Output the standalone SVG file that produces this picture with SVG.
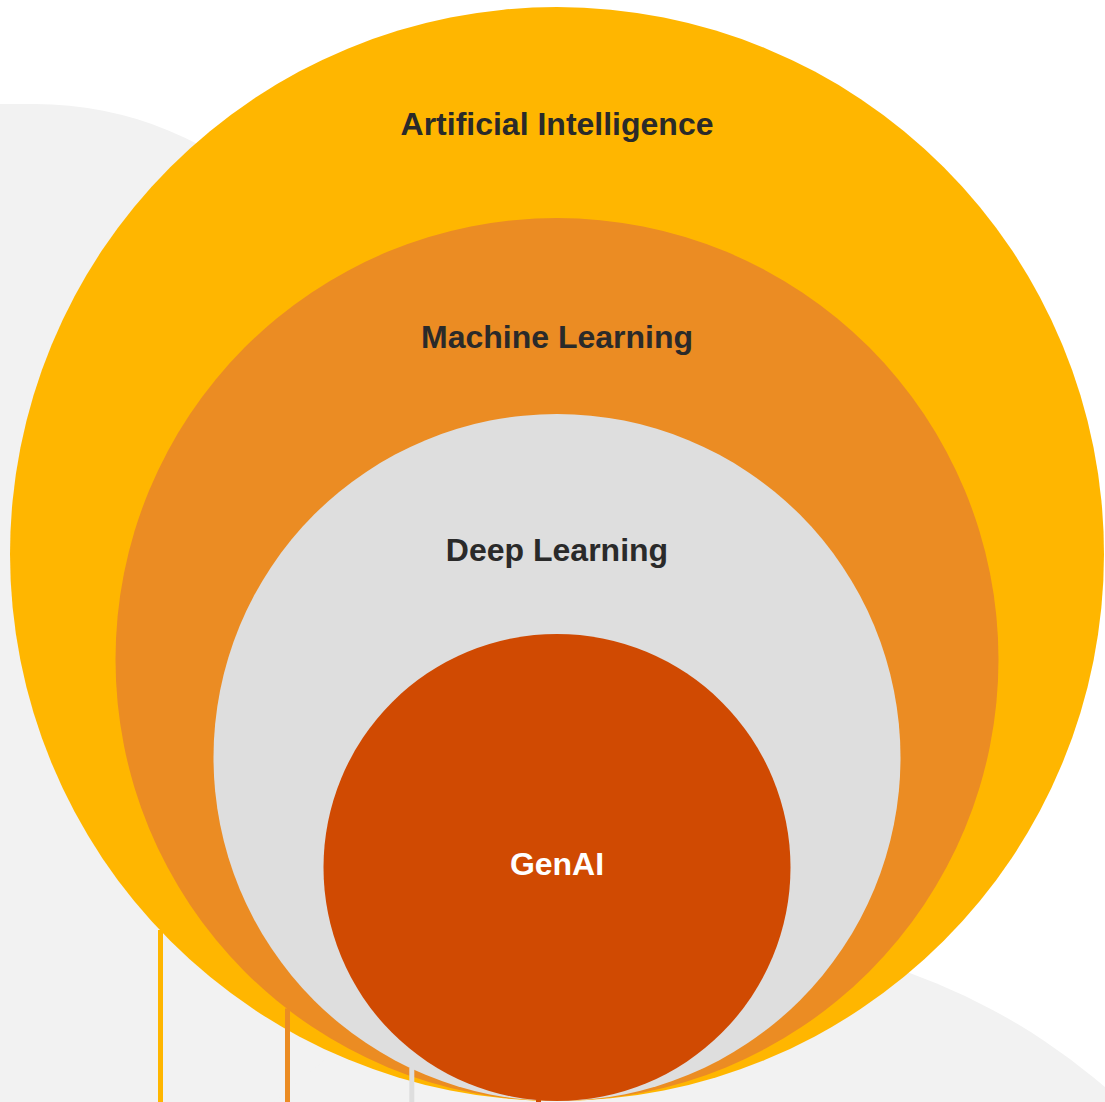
<svg xmlns="http://www.w3.org/2000/svg" width="1105" height="1102" viewBox="0 0 1105 1102">
  <style>
    .bg { fill: #F2F2F2; }
    .lbl { font-family: "Liberation Sans", Arial, Helvetica, sans-serif; font-weight: bold; font-size: 32px; text-anchor: middle; fill: #2A2A2A; }
    .lbl-w { fill: #FFFFFF; }
    .stem { stroke-width: 5; fill: none; }
  </style>
  <rect x="0" y="0" width="1105" height="1102" fill="#FFFFFF"/>
  <g id="background">
    <path class="bg" d="M -400 104 L 35 104 A 350 350 0 0 1 385 454 L 385 1102 L -400 1102 Z"/>
    <circle class="bg" cx="698" cy="1560" r="624"/>
  </g>
  <g id="node-ai">
    <circle cx="557" cy="554" r="547" fill="#FFB600"/>
    <text class="lbl" x="557" y="135">Artificial Intelligence</text>
  </g>
  <g id="node-ml">
    <circle cx="557" cy="659.5" r="441.5" fill="#EB8C23"/>
    <text class="lbl" x="557" y="347.5">Machine Learning</text>
  </g>
  <g id="node-dl">
    <circle cx="557" cy="757.5" r="343.5" fill="#DEDEDE"/>
    <text class="lbl" x="557" y="561">Deep Learning</text>
  </g>
  <g id="node-genai">
    <circle cx="557" cy="867.5" r="233.5" fill="#D04A02"/>
    <text class="lbl lbl-w" x="557" y="875">GenAI</text>
  </g>
  <g id="connectors">
    <line class="stem" x1="160.5" y1="930" x2="160.5" y2="1102" stroke="#FFB600"/>
    <line class="stem" x1="287.5" y1="1008.5" x2="287.5" y2="1102" stroke="#EB8C23"/>
    <line class="stem" x1="411.8" y1="1068" x2="411.8" y2="1102" stroke="#DEDEDE"/>
    <line class="stem" x1="538.5" y1="1100" x2="538.5" y2="1102" stroke="#D04A02"/>
  </g>
</svg>
